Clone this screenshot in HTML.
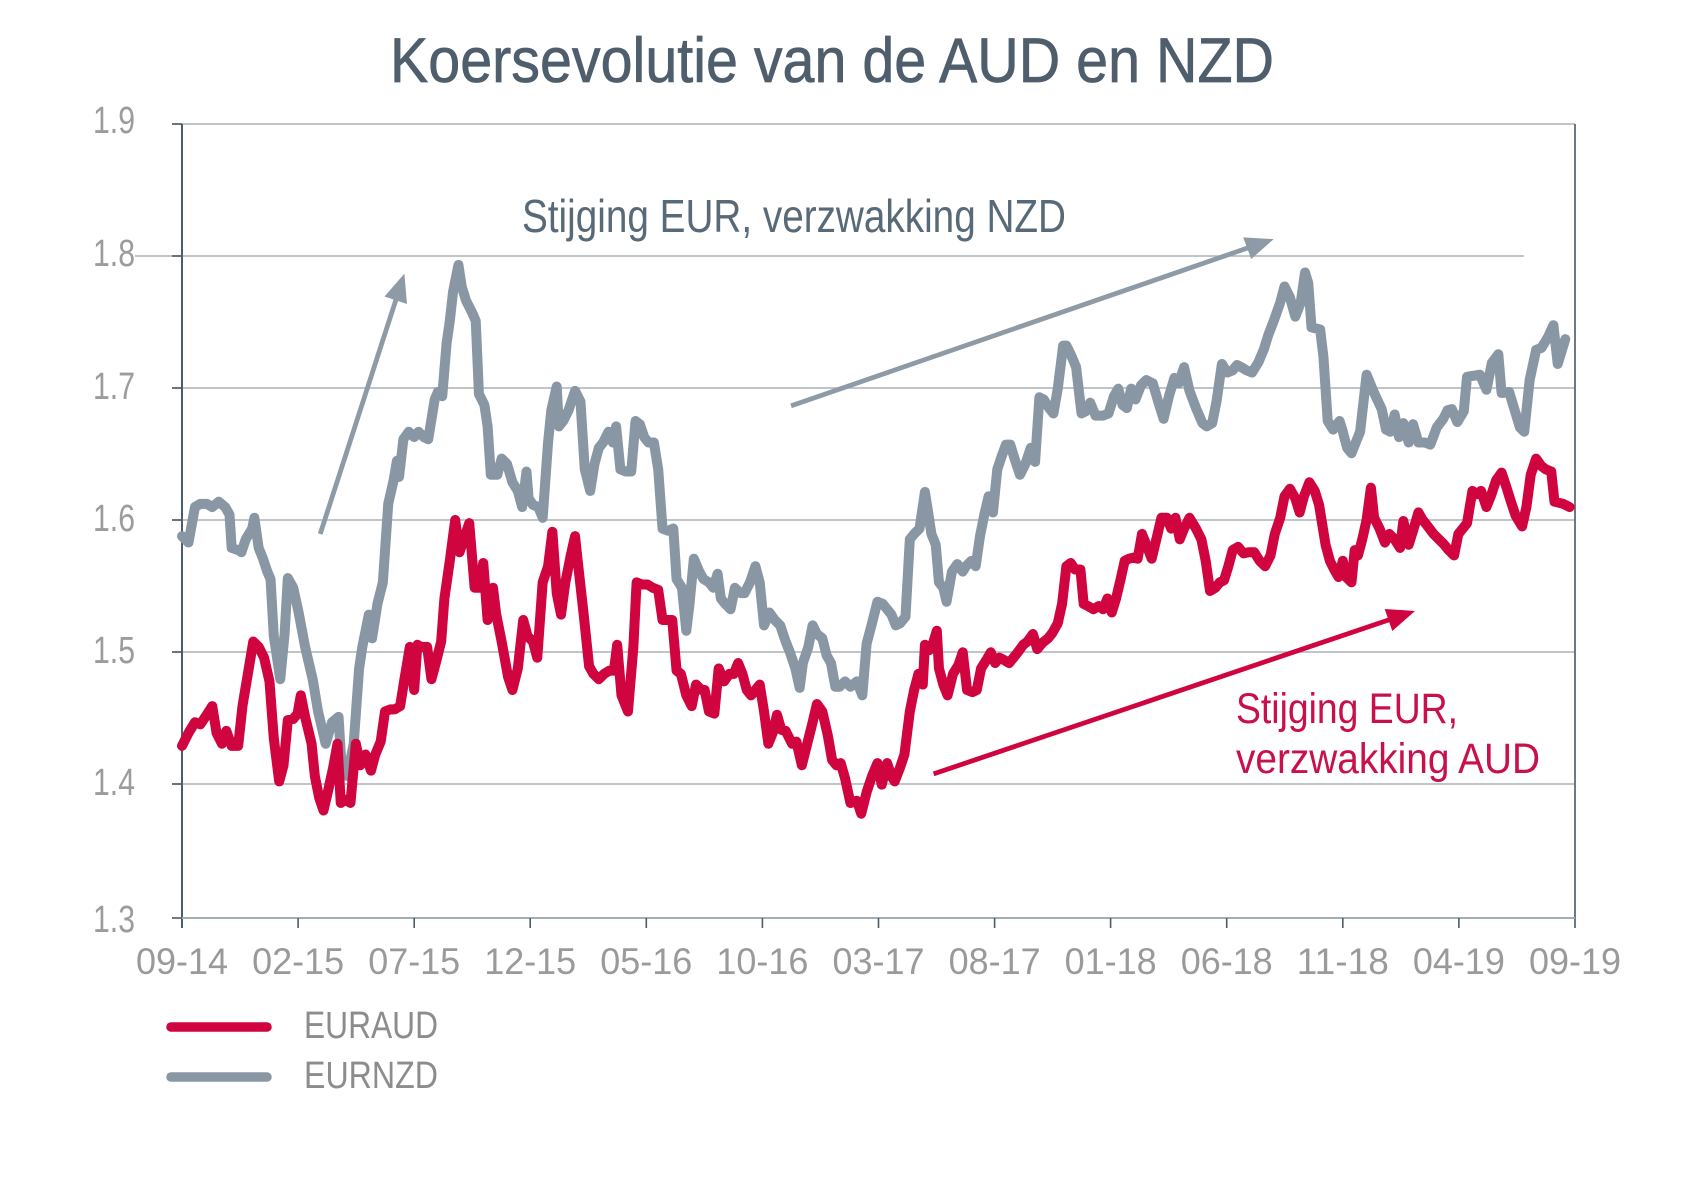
<!DOCTYPE html>
<html><head><meta charset="utf-8"><style>
html,body{margin:0;padding:0;background:#fff;}
svg{display:block;}
text{font-family:"Liberation Sans",sans-serif;}
</style></head><body>
<svg width="1692" height="1185" viewBox="0 0 1692 1185" xmlns="http://www.w3.org/2000/svg">
<rect width="1692" height="1185" fill="#fff"/>
<!-- title -->
<text x="390" y="82" font-size="63" fill="#4f5e6c" stroke="#4f5e6c" stroke-width="0.7" textLength="884" lengthAdjust="spacingAndGlyphs">Koersevolutie van de AUD en NZD</text>

<!-- gridlines -->
<g stroke="#abb2b6" stroke-width="1.6">
<line x1="172" y1="124" x2="1575" y2="124"/>
<line x1="135" y1="256" x2="1524" y2="256"/>
<line x1="172" y1="388" x2="1575" y2="388"/>
<line x1="172" y1="520" x2="1575" y2="520"/>
<line x1="172" y1="652" x2="1575" y2="652"/>
<line x1="172" y1="784" x2="1575" y2="784"/>
</g>
<!-- y ticks -->
<g stroke="#4e5c68" stroke-width="1.6">
<line x1="172" y1="124" x2="182" y2="124"/>
<line x1="172" y1="256" x2="182" y2="256"/>
<line x1="172" y1="388" x2="182" y2="388"/>
<line x1="172" y1="520" x2="182" y2="520"/>
<line x1="172" y1="652" x2="182" y2="652"/>
<line x1="172" y1="784" x2="182" y2="784"/>
<line x1="172" y1="918" x2="182" y2="918"/>
</g>
<!-- axes -->
<line x1="182" y1="124" x2="182" y2="928" stroke="#4e5c68" stroke-width="2"/>
<line x1="1575" y1="124" x2="1575" y2="928" stroke="#5d6a75" stroke-width="1.8"/>
<line x1="182" y1="918" x2="1575" y2="918" stroke="#a3adb4" stroke-width="2"/>
<g stroke="#4e5c68" stroke-width="1.6">
<line x1="298.1" y1="918" x2="298.1" y2="928"/>
<line x1="414.2" y1="918" x2="414.2" y2="928"/>
<line x1="530.2" y1="918" x2="530.2" y2="928"/>
<line x1="646.3" y1="918" x2="646.3" y2="928"/>
<line x1="762.4" y1="918" x2="762.4" y2="928"/>
<line x1="878.5" y1="918" x2="878.5" y2="928"/>
<line x1="994.6" y1="918" x2="994.6" y2="928"/>
<line x1="1110.6" y1="918" x2="1110.6" y2="928"/>
<line x1="1226.7" y1="918" x2="1226.7" y2="928"/>
<line x1="1342.8" y1="918" x2="1342.8" y2="928"/>
<line x1="1458.9" y1="918" x2="1458.9" y2="928"/>
</g>

<!-- y labels -->
<g font-size="38" fill="#9c9c9c" text-anchor="end">
<text x="135" y="133" textLength="42" lengthAdjust="spacingAndGlyphs">1.9</text>
<text x="135" y="266" textLength="42" lengthAdjust="spacingAndGlyphs">1.8</text>
<text x="135" y="399" textLength="42" lengthAdjust="spacingAndGlyphs">1.7</text>
<text x="135" y="531" textLength="42" lengthAdjust="spacingAndGlyphs">1.6</text>
<text x="135" y="663" textLength="42" lengthAdjust="spacingAndGlyphs">1.5</text>
<text x="135" y="795" textLength="42" lengthAdjust="spacingAndGlyphs">1.4</text>
<text x="135" y="932" textLength="42" lengthAdjust="spacingAndGlyphs">1.3</text>
</g>
<!-- x labels -->
<g font-size="37" fill="#9a9a9a" text-anchor="middle">
<text x="182" y="974" textLength="92" lengthAdjust="spacingAndGlyphs">09-14</text>
<text x="298.1" y="974" textLength="92" lengthAdjust="spacingAndGlyphs">02-15</text>
<text x="414.2" y="974" textLength="92" lengthAdjust="spacingAndGlyphs">07-15</text>
<text x="530.2" y="974" textLength="92" lengthAdjust="spacingAndGlyphs">12-15</text>
<text x="646.3" y="974" textLength="92" lengthAdjust="spacingAndGlyphs">05-16</text>
<text x="762.4" y="974" textLength="92" lengthAdjust="spacingAndGlyphs">10-16</text>
<text x="878.5" y="974" textLength="92" lengthAdjust="spacingAndGlyphs">03-17</text>
<text x="994.6" y="974" textLength="92" lengthAdjust="spacingAndGlyphs">08-17</text>
<text x="1110.6" y="974" textLength="92" lengthAdjust="spacingAndGlyphs">01-18</text>
<text x="1226.7" y="974" textLength="92" lengthAdjust="spacingAndGlyphs">06-18</text>
<text x="1342.8" y="974" textLength="92" lengthAdjust="spacingAndGlyphs">11-18</text>
<text x="1458.9" y="974" textLength="92" lengthAdjust="spacingAndGlyphs">04-19</text>
<text x="1575" y="974" textLength="92" lengthAdjust="spacingAndGlyphs">09-19</text>
</g>

<!-- series -->
<g transform="translate(182 124) scale(1.07984 1.07598) translate(-169 -114)" fill="none" stroke-linejoin="round" stroke-linecap="round">
<polyline vector-effect="non-scaling-stroke" stroke="#8897a3" stroke-width="10" points="169,497 175,503 181,470 186,467 192,467 197,470 203,465 209,470 213,477 215,508 221,510 224,512 228,500 234,490 236,480 240,508 244,518 248,530 251,537 254,590 260,630 264,588 267,536 272,545 277,568 283,600 290,630 295,660 302,690 308,670 314,665 317,715 322,720 328,690 333,620 336,600 342,570 345,592 350,560 355,540 360,467 365,445 368,427 370,442 374,407 379,400 384,405 388,400 393,405 397,407 403,370 406,363 410,367 414,318 417,297 420,270 425,245 428,265 432,278 438,290 441,297 444,365 449,375 452,395 455,440 461,440 465,425 470,430 475,447 480,455 484,470 488,437 490,462 494,468 499,470 503,480 508,410 511,380 516,358 518,395 522,390 527,380 533,362 538,372 542,435 547,455 551,430 555,415 559,410 564,400 568,410 571,395 575,435 580,437 585,437 589,390 593,393 597,405 601,410 606,410 610,435 614,490 619,492 624,490 627,537 632,545 636,585 639,560 643,518 648,530 652,537 657,540 661,545 665,532 668,555 672,560 677,565 681,545 686,550 690,550 695,540 700,525 704,540 708,580 713,568 718,575 723,580 728,595 732,605 737,620 741,638 744,615 749,600 753,580 757,588 762,592 766,608 770,615 774,637 778,637 783,632 788,637 794,632 799,645 803,597 808,578 813,558 818,560 822,565 826,570 830,580 834,578 839,572 843,500 847,495 852,490 857,456 860,475 863,495 867,505 870,540 874,545 877,558 882,530 887,523 892,530 895,525 900,520 904,525 908,497 912,477 916,460 920,475 924,435 928,423 932,412 936,412 940,425 945,440 950,430 955,415 959,428 963,368 967,370 972,378 976,383 980,360 985,320 988,320 992,328 997,340 1002,383 1006,381 1010,373 1015,385 1022,385 1027,383 1032,367 1036,360 1040,375 1044,378 1048,360 1052,370 1057,357 1062,352 1068,355 1073,372 1078,388 1083,367 1088,350 1092,355 1097,340 1102,362 1108,378 1114,392 1118,395 1123,392 1127,372 1132,337 1137,345 1142,343 1146,338 1150,340 1155,343 1160,345 1166,335 1171,323 1175,310 1180,297 1186,280 1190,265 1195,275 1200,293 1205,280 1209,252 1212,262 1215,303 1223,305 1226,330 1230,390 1235,398 1241,390 1244,400 1248,415 1252,420 1256,410 1260,400 1266,347 1273,364 1280,379 1284,398 1288,400 1292,384 1296,405 1300,392 1305,410 1309,393 1314,410 1320,410 1325,412 1331,396 1337,388 1341,380 1345,379 1350,391 1356,381 1359,349 1371,347 1377,361 1382,336 1388,328 1391,364 1398,363 1408,396 1412,400 1417,352 1423,324 1428,322 1434,312 1439,301 1443,337 1450,314"/>
<polyline vector-effect="non-scaling-stroke" stroke="#d0043f" stroke-width="10" points="169,692 175,680 181,670 186,672 192,663 197,655 201,680 206,690 210,678 215,692 221,692 225,655 230,625 235,595 240,600 245,610 250,632 254,685 259,725 263,710 267,668 272,667 276,662 279,645 283,665 289,690 292,720 296,740 300,752 304,735 309,712 313,690 316,745 320,742 325,745 330,690 334,710 339,700 344,715 348,700 353,688 357,660 362,658 366,658 371,655 375,630 380,600 384,640 387,598 390,600 396,600 400,630 404,615 409,595 412,555 417,520 422,482 426,512 430,500 435,485 440,545 444,545 448,522 452,575 457,545 460,570 465,595 471,628 475,640 480,620 485,575 489,590 494,595 498,610 503,540 508,525 512,493 516,550 520,570 524,540 529,515 533,497 536,525 541,570 546,618 550,625 555,630 560,625 565,622 569,622 572,598 576,645 582,660 587,600 590,540 595,542 600,542 605,545 610,547 614,575 619,575 623,575 627,622 631,625 636,645 641,655 645,635 650,640 653,640 657,660 662,662 666,620 671,632 676,625 680,625 684,615 688,625 692,640 696,645 700,640 704,635 708,660 712,690 716,680 720,663 724,677 728,678 734,690 738,688 743,710 748,690 753,670 757,653 762,660 767,682 771,705 775,710 779,708 783,722 788,745 794,743 798,755 803,735 808,720 813,708 817,728 822,708 826,720 829,725 834,712 838,700 843,660 847,640 851,625 855,635 857,598 861,603 864,598 868,585 870,620 874,635 878,645 883,625 888,617 892,605 896,640 901,642 905,640 909,620 914,612 918,605 922,615 926,610 930,612 935,615 939,610 943,605 948,598 952,595 957,588 961,602 966,596 971,592 975,587 980,578 984,560 988,525 992,522 996,528 1001,528 1004,560 1008,562 1013,565 1018,562 1022,565 1026,555 1030,568 1034,555 1038,538 1042,520 1046,518 1050,517 1054,518 1058,495 1062,505 1067,518 1072,497 1076,480 1081,480 1085,490 1089,480 1093,500 1097,490 1102,480 1108,490 1113,500 1117,520 1121,548 1126,545 1130,540 1134,538 1138,525 1142,510 1147,507 1152,513 1157,512 1162,512 1167,520 1172,525 1177,515 1181,495 1186,480 1190,460 1195,453 1200,462 1204,475 1208,460 1213,447 1218,455 1222,468 1228,505 1232,520 1236,528 1240,535 1244,520 1247,535 1252,540 1255,510 1258,515 1262,500 1266,482 1270,452 1273,480 1278,490 1283,503 1287,495 1292,500 1297,508 1300,483 1305,505 1309,492 1314,475 1318,482 1322,487 1328,495 1333,500 1338,505 1342,510 1347,515 1351,495 1355,490 1359,485 1364,455 1368,458 1372,455 1377,470 1381,460 1386,445 1391,438 1395,450 1400,466 1404,478 1410,488 1414,470 1418,440 1423,425 1428,432 1432,435 1437,437 1440,465 1448,467 1454,470"/>
</g>

<!-- arrows -->
<g stroke="#8e9ba6" stroke-width="4.8" fill="#8e9ba6">
<line x1="320.2" y1="534" x2="396.5" y2="298"/>
<polygon stroke="none" points="404.4,273.6 407,304 384.5,296.5"/>
<line x1="791" y1="405.9" x2="1249" y2="247.5"/>
<polygon stroke="none" points="1273.7,239.1 1251.2,259 1243.2,237.4"/>
</g>
<g stroke="#d0043f" stroke-width="4.8" fill="#d0043f">
<line x1="933.6" y1="773.9" x2="1390" y2="619.5"/>
<polygon stroke="none" points="1415,611 1392.3,631 1384.7,609"/>
</g>

<!-- annotations -->
<text x="522" y="232" font-size="46" fill="#586a77" textLength="544" lengthAdjust="spacingAndGlyphs">Stijging EUR, verzwakking NZD</text>
<text x="1236" y="723" font-size="43" fill="#c8104a" textLength="222" lengthAdjust="spacingAndGlyphs">Stijging EUR,</text>
<text x="1236" y="773" font-size="43" fill="#c8104a" textLength="304" lengthAdjust="spacingAndGlyphs">verzwakking AUD</text>

<!-- legend -->
<line x1="171" y1="1027" x2="267" y2="1027" stroke="#d0043f" stroke-width="9.5" stroke-linecap="round"/>
<line x1="171" y1="1077" x2="267" y2="1077" stroke="#8897a3" stroke-width="9.5" stroke-linecap="round"/>
<text x="304" y="1038" font-size="38" fill="#8c8c8c" textLength="134" lengthAdjust="spacingAndGlyphs">EURAUD</text>
<text x="304" y="1088" font-size="38" fill="#8c8c8c" textLength="134" lengthAdjust="spacingAndGlyphs">EURNZD</text>
</svg>
</body></html>
